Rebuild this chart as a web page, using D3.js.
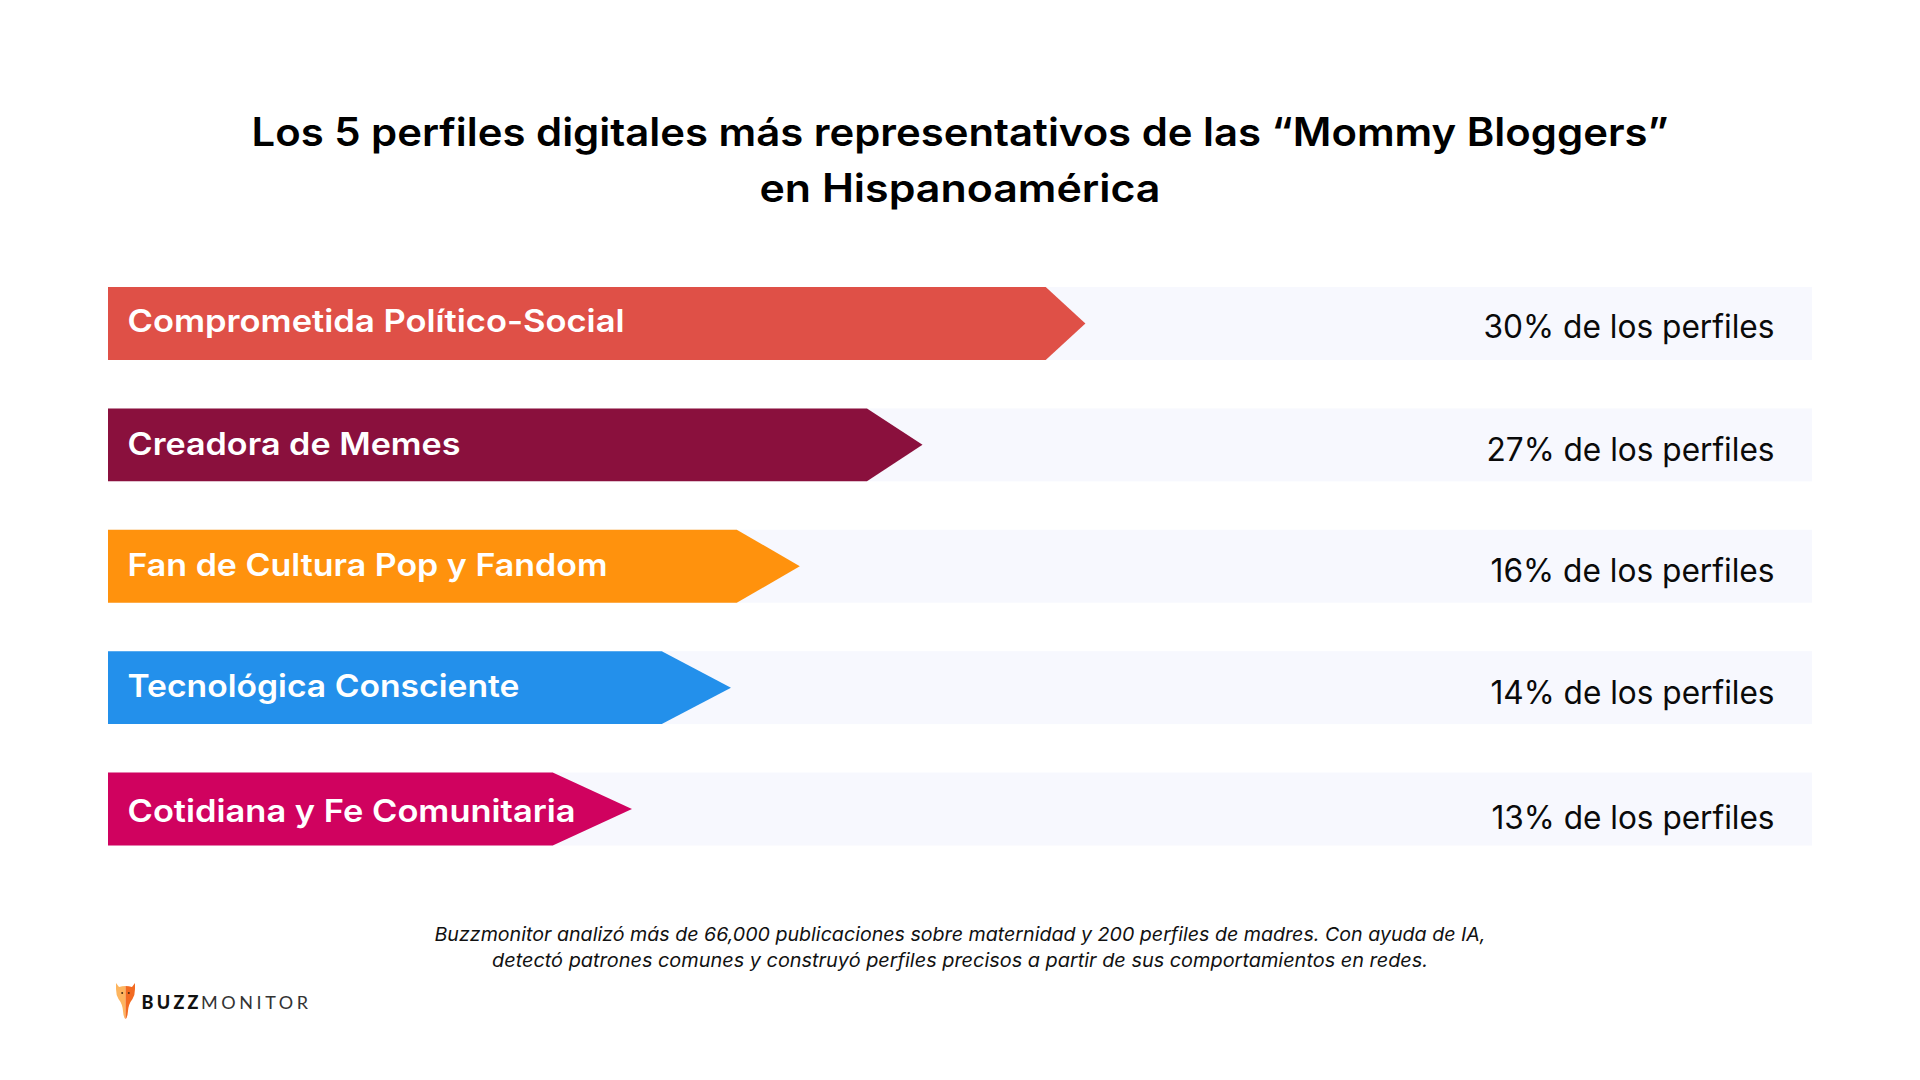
<!DOCTYPE html>
<html>
<head>
<meta charset="utf-8">
<script src="https://cdn.jsdelivr.net/npm/d3@7"></script>
<style>
  body { margin: 0; background: #fff; }
  svg { display: block; }
</style>
</head>
<body>
<div id="box"></div>
<script>
var w = 1920,
    h = 1080;

var categories = ["Comprometida Político-Social", "Creadora de Memes", "Fan de Cultura Pop y Fandom", "Tecnológica Consciente", "Cotidiana y Fe Comunitaria"];
var percents = [30, 27, 16, 14, 13];
// arrow length as drawn, in % of the track (the arrows are not proportional to the percents)
var shaftEnds = [55.03, 44.54, 36.9, 32.5, 26.1];
var tipEnds = [57.36, 47.8, 40.6, 36.56, 30.75];
var colors = ["#df5047", "#8a103d", "#ff920d", "#2390eb", "#d0025f"];

var titleLines = ["Los 5 perfiles digitales más representativos de las “Mommy Bloggers”", "en Hispanoamérica"];
var noteLines = ["Buzzmonitor analizó más de 66,000 publicaciones sobre maternidad y 200 perfiles de madres. Con ayuda de IA,", "detectó patrones comunes y construyó perfiles precisos a partir de sus comportamientos en redes."];

// text widths and baselines
var labelWidths = [497, 333, 480, 392, 448],
    labelDy = [44.7, 46.5, 46, 45.5, 49.5],
    valueWidths = [291, 288, 284, 284, 283],
    valueDy = [51, 53, 52.5, 52.5, 56.5];

var svg = d3.select("#box")
            .append("svg")
            .attr("width", w)
            .attr("height", h);

var x = d3.scaleLinear().domain([0, 100]).range([108, 1812]);
var y = d3.scaleBand().domain(categories).range([287, 845.5]).paddingInner(0.3987);

var sans = "Inter, 'Noto Sans', sans-serif";

function fit(sel, width) {
  sel.attr("textLength", width).attr("lengthAdjust", "spacingAndGlyphs");
}

// title
svg.selectAll("text.title")
   .data(titleLines)
   .enter()
   .append("text")
   .attr("class", "title")
   .text(function(d) { return d; })
   .attr("x", 960)
   .attr("y", function(d, i) { return 146 + i * 55.7; })
   .attr("text-anchor", "middle")
   .attr("font-family", sans)
   .attr("font-size", "39px")
   .attr("font-weight", 600)
   .attr("fill", "#000")
   .each(function(d, i) { fit(d3.select(this), [1417, 401][i]); });

var rows = svg.selectAll("g.row")
              .data(categories)
              .enter()
              .append("g")
              .attr("class", "row");

rows.append("rect")
    .attr("x", x(0))
    .attr("y", function(d) { return y(d); })
    .attr("width", x(100) - x(0))
    .attr("height", y.bandwidth())
    .attr("fill", "#f7f8fe");

var line = d3.line();
rows.append("path")
    .attr("d", function(d, i) {
      var top = y(d), bottom = top + y.bandwidth();
      return line([[x(0), top], [x(shaftEnds[i]), top], [x(tipEnds[i]), (top + bottom) / 2], [x(shaftEnds[i]), bottom], [x(0), bottom]]) + "Z";
    })
    .attr("fill", function(d, i) { return colors[i]; });

rows.append("text")
    .text(function(d) { return d; })
    .attr("x", 127.5)
    .attr("y", function(d, i) { return y(d) + labelDy[i]; })
    .attr("font-family", sans)
    .attr("font-size", "31px")
    .attr("font-weight", 600)
    .attr("fill", "#fff")
    .each(function(d, i) { fit(d3.select(this), labelWidths[i]); });

rows.append("text")
    .text(function(d, i) { return percents[i] + "% de los perfiles"; })
    .attr("x", 1774.5)
    .attr("y", function(d, i) { return y(d) + valueDy[i]; })
    .attr("text-anchor", "end")
    .attr("font-family", sans)
    .attr("font-size", "32px")
    .attr("font-weight", 400)
    .attr("fill", "#0a0a0a")
    .each(function(d, i) { fit(d3.select(this), valueWidths[i]); });

// footnote
svg.selectAll("text.note")
   .data(noteLines)
   .enter()
   .append("text")
   .attr("class", "note")
   .text(function(d) { return d; })
   .attr("x", 960)
   .attr("y", function(d, i) { return 941 + i * 26; })
   .attr("text-anchor", "middle")
   .attr("font-family", sans)
   .attr("font-size", "19px")
   .attr("font-style", "italic")
   .attr("fill", "#111")
   .each(function(d, i) { fit(d3.select(this), [1051, 936][i]); });

// logo
var logo = svg.append("g").attr("transform", "translate(116,983)");
logo.append("path")
    .attr("d", "M0,0 L3,4 Q6,3 9.5,3 L9.5,36 Q7.5,35 7,28 Q6.5,21 2.5,16 Q0,12 0,6 Z")
    .attr("fill", "#fdb55f");
logo.append("path")
    .attr("d", "M19,0 L16,4 Q13,3 9.5,3 L9.5,36 Q11.5,35 12,28 Q12.5,21 16.5,16 Q19,12 19,6 Z")
    .attr("fill", "#f26a21");
logo.selectAll("circle")
    .data([6.2, 12.8])
    .enter()
    .append("circle")
    .attr("cx", function(d) { return d; })
    .attr("cy", 10)
    .attr("r", 1)
    .attr("fill", "#4a2a10");

svg.append("text")
   .text("BUZZ")
   .attr("x", 141.5)
   .attr("y", 1008.5)
   .attr("font-family", "Lato, sans-serif")
   .attr("font-size", "18px")
   .attr("font-weight", 900)
   .attr("textLength", 57)
   .attr("fill", "#111");

svg.append("text")
   .text("MONITOR")
   .attr("x", 201)
   .attr("y", 1008.5)
   .attr("font-family", "Lato, sans-serif")
   .attr("font-size", "18px")
   .attr("font-weight", 400)
   .attr("textLength", 107)
   .attr("fill", "#333");
</script>
</body>
</html>
